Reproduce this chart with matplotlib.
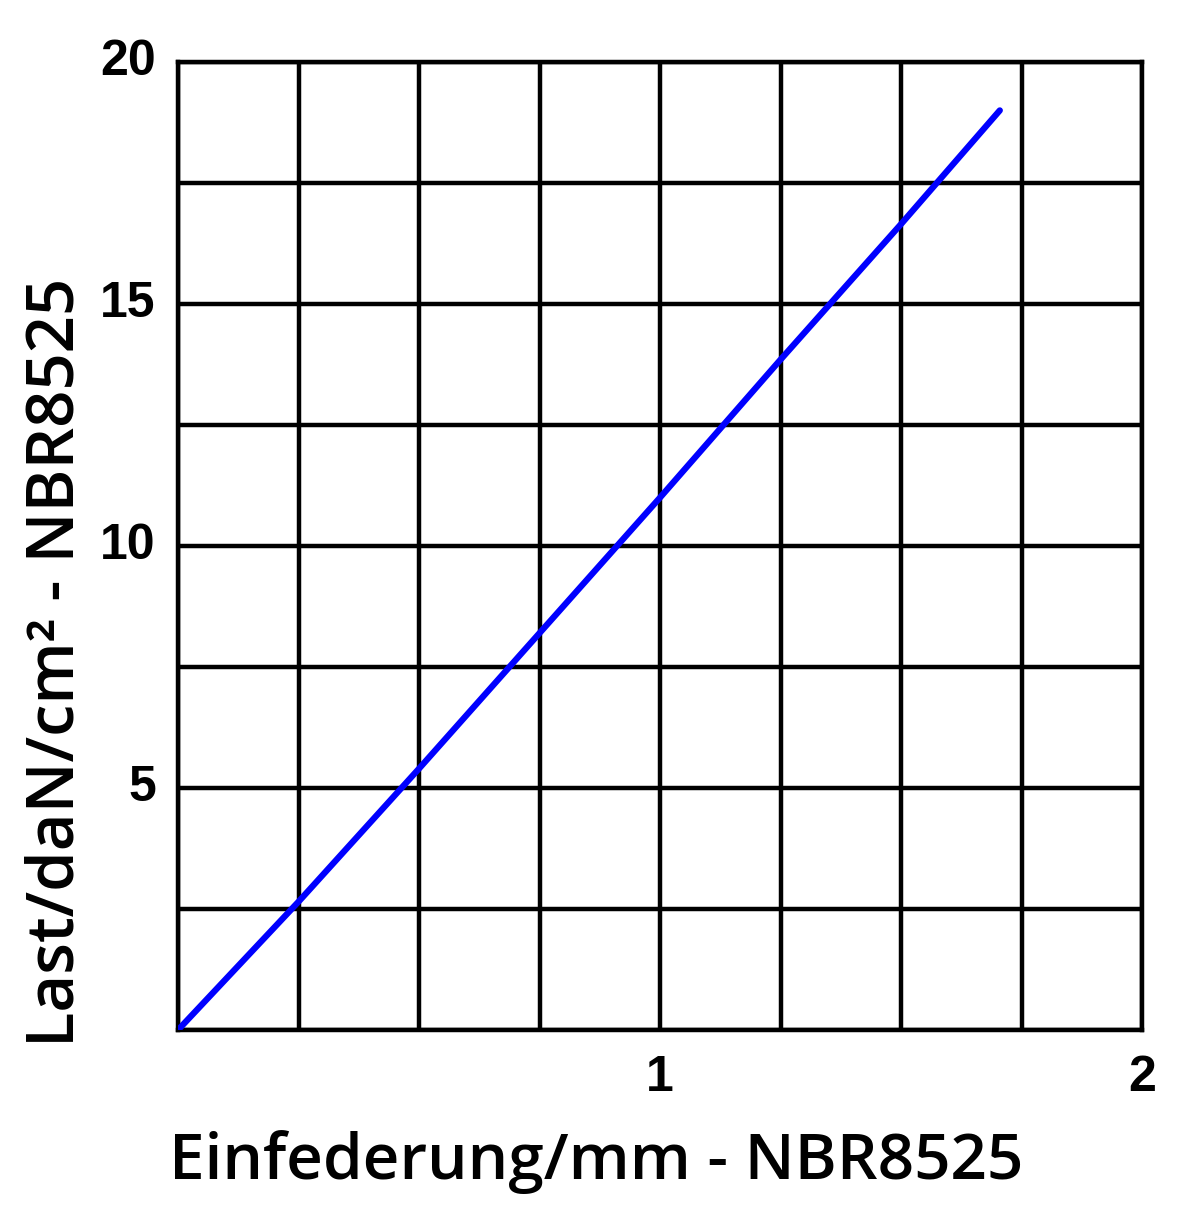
import matplotlib
matplotlib.use("Agg")
import matplotlib.pyplot as plt
import numpy as np

# Data
deflection_mm = [0.0, 0.25, 0.5, 0.75, 1.0, 1.25, 1.5, 1.705]
load_daN_cm2 = [0.0, 2.65, 5.4, 8.2, 11.0, 13.85, 16.65, 19.0]

x_ticks = [1, 2]
x_tick_labels = ["1", "2"]
y_ticks = [5, 10, 15, 20]
y_tick_labels = ["5", "10", "15", "20"]
x_grid = np.arange(0, 2.01, 0.25)
y_grid = np.arange(0, 20.01, 2.5)

xlabel = "Einfederung/mm - NBR8525"
ylabel = "Last/daN/cm² - NBR8525"

W, H = 1200, 1215
fig = plt.figure(figsize=(W / 100, H / 100), dpi=100)
fig.patch.set_facecolor("white")

left, right, top, bottom = 178, 1142, 62, 1030
ax = fig.add_axes([left / W, (H - bottom) / H, (right - left) / W, (bottom - top) / H])
ax.set_xlim(0, 2)
ax.set_ylim(0, 20)

for gx in x_grid:
    ax.axvline(gx, color="black", lw=3.2, zorder=1)
for gy in y_grid:
    ax.axhline(gy, color="black", lw=3.2, zorder=1)
for s in ax.spines.values():
    s.set_linewidth(3.2)
    s.set_color("black")

ax.plot(deflection_mm, load_daN_cm2, color="#0000ff", lw=4.5, solid_capstyle="round", zorder=3)

tick_font = dict(family="Liberation Sans", weight="bold", size=36)
ax.set_xticks(x_ticks)
ax.set_xticklabels(x_tick_labels, **tick_font)
ax.set_yticks(y_ticks)
ax.set_yticklabels(y_tick_labels, **tick_font)
ax.tick_params(axis="x", length=0, pad=18)
ax.tick_params(axis="y", length=0, pad=16)
for lab in ax.get_yticklabels():
    lab.set_verticalalignment("center")

fig.text(596 / W, 1 - 1162 / H, xlabel, ha="center", va="center",
         family="Open Sans", size=46, weight="semibold")
fig.text(57 / W, 1 - 662 / H, ylabel, ha="center", va="center", rotation=90,
         family="Open Sans", size=47, weight="semibold")

fig.savefig("out.png", dpi=100, facecolor="white")
